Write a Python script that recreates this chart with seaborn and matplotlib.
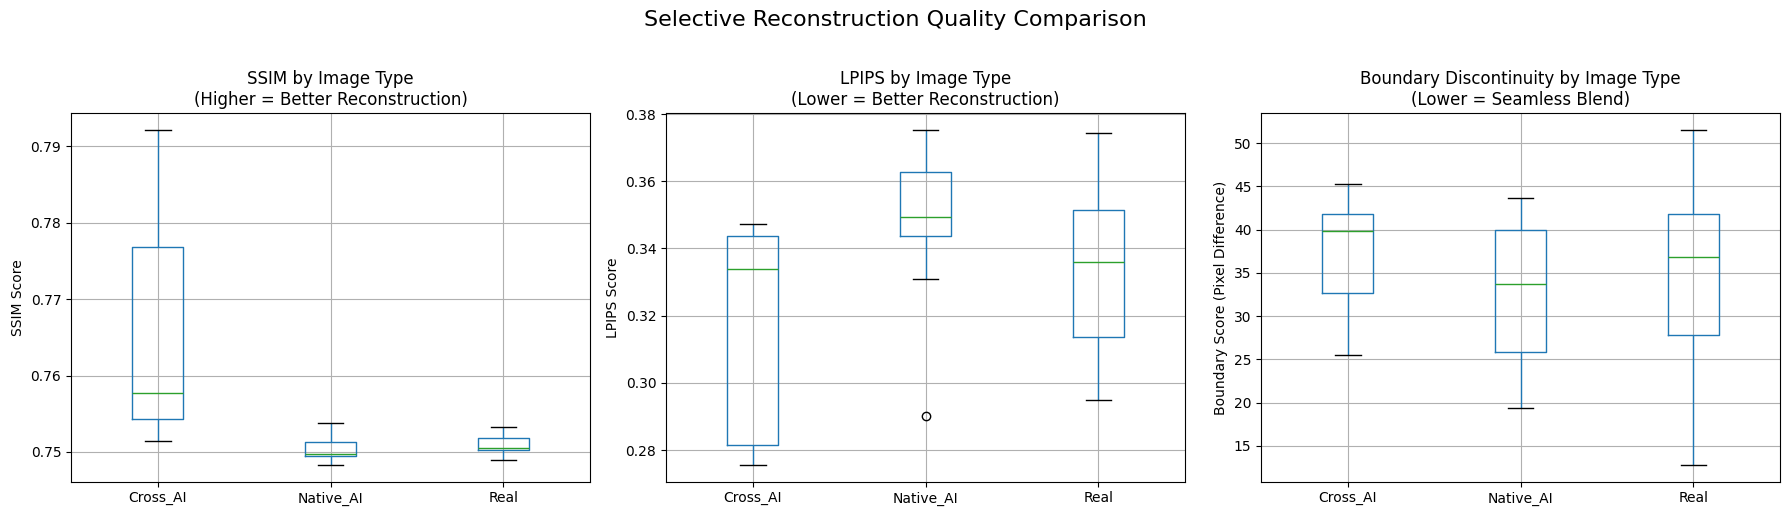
import pandas as pd
import seaborn as sns
import matplotlib.pyplot as plt

# image types on the x axis
categories = ["Cross_AI", "Native_AI", "Real"]

# per-image scores
ssim_cross = [0.7514, 0.7543, 0.7577, 0.7768, 0.7921]
ssim_native = [0.7483, 0.7495, 0.7497, 0.7513, 0.7538]
ssim_real = [0.7490, 0.7502, 0.7505, 0.7518, 0.7532]

lpips_cross = [0.2756, 0.2816, 0.3340, 0.3436, 0.3472]
lpips_native = [0.2903, 0.3308, 0.3436, 0.3462, 0.3493, 0.3560, 0.3627, 0.3695, 0.3752]
lpips_real = [0.2950, 0.3138, 0.3359, 0.3514, 0.3743]

bound_cross = [25.55, 32.73, 39.80, 41.85, 45.25]
bound_native = [19.40, 25.90, 33.78, 39.92, 43.63]
bound_real = [12.80, 27.86, 36.79, 41.77, 51.51]


def long_frame(groups):
    rows = []
    for cat, vals in zip(categories, groups):
        for v in vals:
            rows.append({"image_type": cat, "value": v})
    return pd.DataFrame(rows)


panels = [
    (long_frame([ssim_cross, ssim_native, ssim_real]),
     "SSIM by Image Type\n(Higher = Better Reconstruction)", "SSIM Score"),
    (long_frame([lpips_cross, lpips_native, lpips_real]),
     "LPIPS by Image Type\n(Lower = Better Reconstruction)", "LPIPS Score"),
    (long_frame([bound_cross, bound_native, bound_real]),
     "Boundary Discontinuity by Image Type\n(Lower = Seamless Blend)",
     "Boundary Score (Pixel Difference)"),
]

fig, axes = plt.subplots(1, 3, figsize=(17.9, 5.15), dpi=100)

lefts = [0.0397, 0.3721, 0.7045]

for ax, left, (df, title, ylabel) in zip(axes, lefts, panels):
    ax.set_position([left, 0.0647, 0.2899, 0.715])
    sns.boxplot(data=df, x="image_type", y="value", order=categories, ax=ax,
                width=0.3, fill=False, color="#1f77b4", linewidth=1,
                whis=1.5,
                capprops=dict(color="black", linewidth=1),
                medianprops=dict(color="#2ca02c", linewidth=1),
                flierprops=dict(marker="o", markerfacecolor="none",
                                markeredgecolor="black", markersize=6))
    ax.grid(True)
    ax.set_title(title, fontsize=12)
    ax.set_xlabel("")
    ax.set_ylabel(ylabel, fontsize=10)

fig.suptitle("Selective Reconstruction Quality Comparison", fontsize=16, y=0.98)
plt.savefig("out.png", dpi=100)
plt.close()
